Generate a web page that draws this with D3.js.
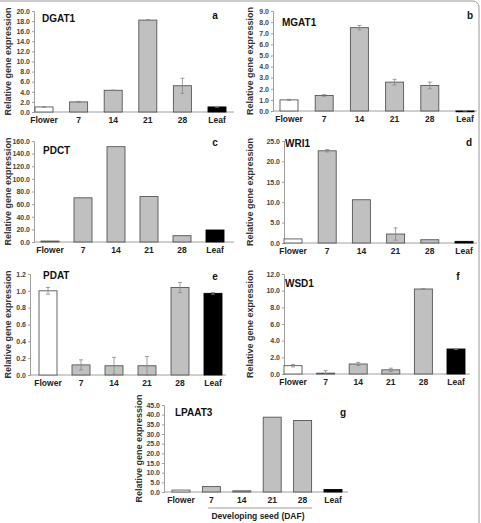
<!DOCTYPE html>
<html>
<head>
<meta charset="utf-8">
<script src="https://cdn.jsdelivr.net/npm/d3@7"></script>
<style>
  body { margin: 0; background: #fff; }
  svg { display: block; font-family: "Liberation Sans", Arial, sans-serif; }
</style>
</head>
<body>
<svg id="chart" width="481" height="523"></svg>
<script>
const categories = ["Flower", "7", "14", "21", "28", "Leaf"];

// values, one array per gene
const dgat1 = [1.0, 2.0, 4.3, 18.2, 5.2, 1.0];
const dgat1Err = [0.05, 0.1, 0.05, 0.1, 1.5, 0.05];
const mgat1 = [1.0, 1.4, 7.5, 2.6, 2.3, 0.0];
const mgat1Err = [0.05, 0.08, 0.2, 0.25, 0.3, 0.02];
const pdct = [1.5, 70, 151, 72, 10, 19];
const pdctErr = [0, 0, 0, 0, 0, 0];
const wri1 = [1.0, 22.6, 10.6, 2.2, 0.8, 0.4];
const wri1Err = [0, 0.3, 0, 1.5, 0, 0];
const pdat = [1.0, 0.12, 0.11, 0.11, 1.04, 0.97];
const pdatErr = [0.04, 0.06, 0.1, 0.11, 0.06, 0.01];
const wsd1 = [1.0, 0.1, 1.2, 0.5, 10.2, 3.0];
const wsd1Err = [0.15, 0.3, 0.2, 0.2, 0.05, 0.05];
const lpaat3 = [1.0, 2.8, 0.6, 38.7, 37.0, 1.3];
const lpaat3Err = [0, 0, 0, 0, 0, 0];

const yMaxes = { a: 20, b: 9, c: 160, d: 25, e: 1.2, f: 12, g: 45 };
const yStep = { a: 2, b: 1, c: 20, d: 5, e: 0.2, f: 2, g: 5 };

const svg = d3.select("#chart");

// outer frame (only top and right edges show in the reference)
svg.append("rect")
    .attr("x", -20).attr("y", 1)
    .attr("width", 499).attr("height", 560)
    .attr("rx", 6)
    .attr("fill", "none")
    .attr("stroke", "#9a9a9a")
    .attr("stroke-width", 1);

// layout per panel: axis x, first/last bar centre, y of 0 and of max
const panels = [
    { id: "a", name: "DGAT1", vals: dgat1, err: dgat1Err, ax: 34, c0: 44, c1: 217, axEnd: 234, y0: 112, y1: 11, labX: 8, tx: 42, ty: 22, lx: 215, ly: 19 },
    { id: "b", name: "MGAT1", vals: mgat1, err: mgat1Err, ax: 273, c0: 289, c1: 465, axEnd: 477, y0: 111, y1: 11, labX: 250, tx: 282, ty: 26, lx: 470, ly: 19 },
    { id: "c", name: "PDCT", vals: pdct, err: pdctErr, ax: 34, c0: 50, c1: 215, axEnd: 234, y0: 242, y1: 141, labX: 8, tx: 43, ty: 154, lx: 215, ly: 146 },
    { id: "d", name: "WRI1", vals: wri1, err: wri1Err, ax: 284, c0: 293, c1: 464, axEnd: 477, y0: 243, y1: 141, labX: 250, tx: 285, ty: 147, lx: 469, ly: 146 },
    { id: "e", name: "PDAT", vals: pdat, err: pdatErr, ax: 30, c0: 48, c1: 213, axEnd: 226, y0: 375, y1: 274, labX: 8, tx: 43, ty: 279, lx: 215, ly: 280 },
    { id: "f", name: "WSD1", vals: wsd1, err: wsd1Err, ax: 284, c0: 293, c1: 456, axEnd: 470, y0: 374, y1: 274, labX: 250, tx: 285, ty: 287, lx: 458, ly: 280 },
    { id: "g", name: "LPAAT3", vals: lpaat3, err: lpaat3Err, ax: 164, c0: 181, c1: 333, axEnd: 348, y0: 492, y1: 405, labX: 139, tx: 175, ty: 416, lx: 343, ly: 416 }
];

const barW = 18;

function fillFor(cat) {
    if (cat === "Flower") return "#ffffff";
    if (cat === "Leaf") return "#000000";
    return "#c0c0c0";
}

panels.forEach(p => {
    const step = (p.c1 - p.c0) / (categories.length - 1);
    const x = d3.scaleBand()
        .domain(categories)
        .range([p.c0 - step / 2, p.c1 + step / 2])
        .paddingInner(1 - barW / step)
        .paddingOuter((1 - barW / step) / 2);

    const y = d3.scaleLinear()
        .domain([0, yMaxes[p.id]])
        .range([p.y0, p.y1]);

    const g = svg.append("g");

    // y axis
    const yAxis = d3.axisLeft(y)
        .tickValues(d3.range(0, yMaxes[p.id] + yStep[p.id] / 2, yStep[p.id]))
        .tickFormat(d3.format(".1f"))
        .tickSize(2)
        .tickPadding(2);
    const ya = g.append("g")
        .attr("transform", `translate(${p.ax},0)`)
        .call(yAxis);
    ya.select(".domain").attr("stroke", "#a0a0a0");
    ya.selectAll(".tick line").attr("stroke", "#a0a0a0");
    ya.selectAll("text")
        .attr("font-size", 7)
        .attr("font-weight", "bold")
        .attr("fill", "#444");

    // x axis line
    g.append("line")
        .attr("x1", p.ax).attr("x2", p.axEnd)
        .attr("y1", p.y0).attr("y2", p.y0)
        .attr("stroke", "#a0a0a0");

    // category labels
    g.selectAll(".cat")
        .data(categories)
        .join("text")
        .attr("x", d => x(d) + x.bandwidth() / 2)
        .attr("y", p.y0 + 11)
        .attr("text-anchor", "middle")
        .attr("font-size", 8.5)
        .attr("font-weight", "bold")
        .attr("fill", "#222")
        .text(d => d);

    const rows = categories.map((c, i) => ({ cat: c, v: p.vals[i], e: p.err[i] }));

    g.selectAll(".bar")
        .data(rows)
        .join("rect")
        .attr("x", d => x(d.cat))
        .attr("y", d => y(d.v))
        .attr("width", x.bandwidth())
        .attr("height", d => Math.max(p.y0 - y(d.v), 0.8))
        .attr("fill", d => fillFor(d.cat))
        .attr("stroke", d => d.cat === "Leaf" ? "#000" : "#555")
        .attr("stroke-width", 0.9);

    // error bars
    const eb = rows.filter(d => d.e > 0);
    g.selectAll(".err")
        .data(eb)
        .join("path")
        .attr("d", d => {
            const cx = x(d.cat) + x.bandwidth() / 2;
            const top = y(d.v + d.e), bot = y(Math.max(d.v - d.e, 0));
            return `M${cx},${top}V${bot}M${cx - 2},${top}H${cx + 2}M${cx - 2},${bot}H${cx + 2}`;
        })
        .attr("fill", "none")
        .attr("stroke", "#888")
        .attr("stroke-width", 0.8);

    // gene name and panel letter
    g.append("text")
        .attr("x", p.tx).attr("y", p.ty)
        .attr("font-size", 10)
        .attr("font-weight", "bold")
        .attr("fill", "#111")
        .text(p.name);
    g.append("text")
        .attr("x", p.lx).attr("y", p.ly)
        .attr("text-anchor", "middle")
        .attr("font-size", 10)
        .attr("font-weight", "bold")
        .attr("fill", "#111")
        .text(p.id);

    // y label
    g.append("text")
        .attr("transform", `translate(${p.labX},${(p.y0 + p.y1) / 2}) rotate(-90)`)
        .attr("text-anchor", "middle")
        .attr("dy", "0.35em")
        .attr("font-size", 9)
        .attr("font-weight", "bold")
        .attr("fill", "#333")
        .text("Relative gene expression");
});

// "Developing seed (DAF)" bracket under panel g
svg.append("line")
    .attr("x1", 208).attr("x2", 312)
    .attr("y1", 508).attr("y2", 508)
    .attr("stroke", "#999");
svg.append("text")
    .attr("x", 258).attr("y", 519)
    .attr("text-anchor", "middle")
    .attr("font-size", 8.5)
    .attr("font-weight", "bold")
    .attr("fill", "#222")
    .text("Developing seed (DAF)");
</script>
</body>
</html>
